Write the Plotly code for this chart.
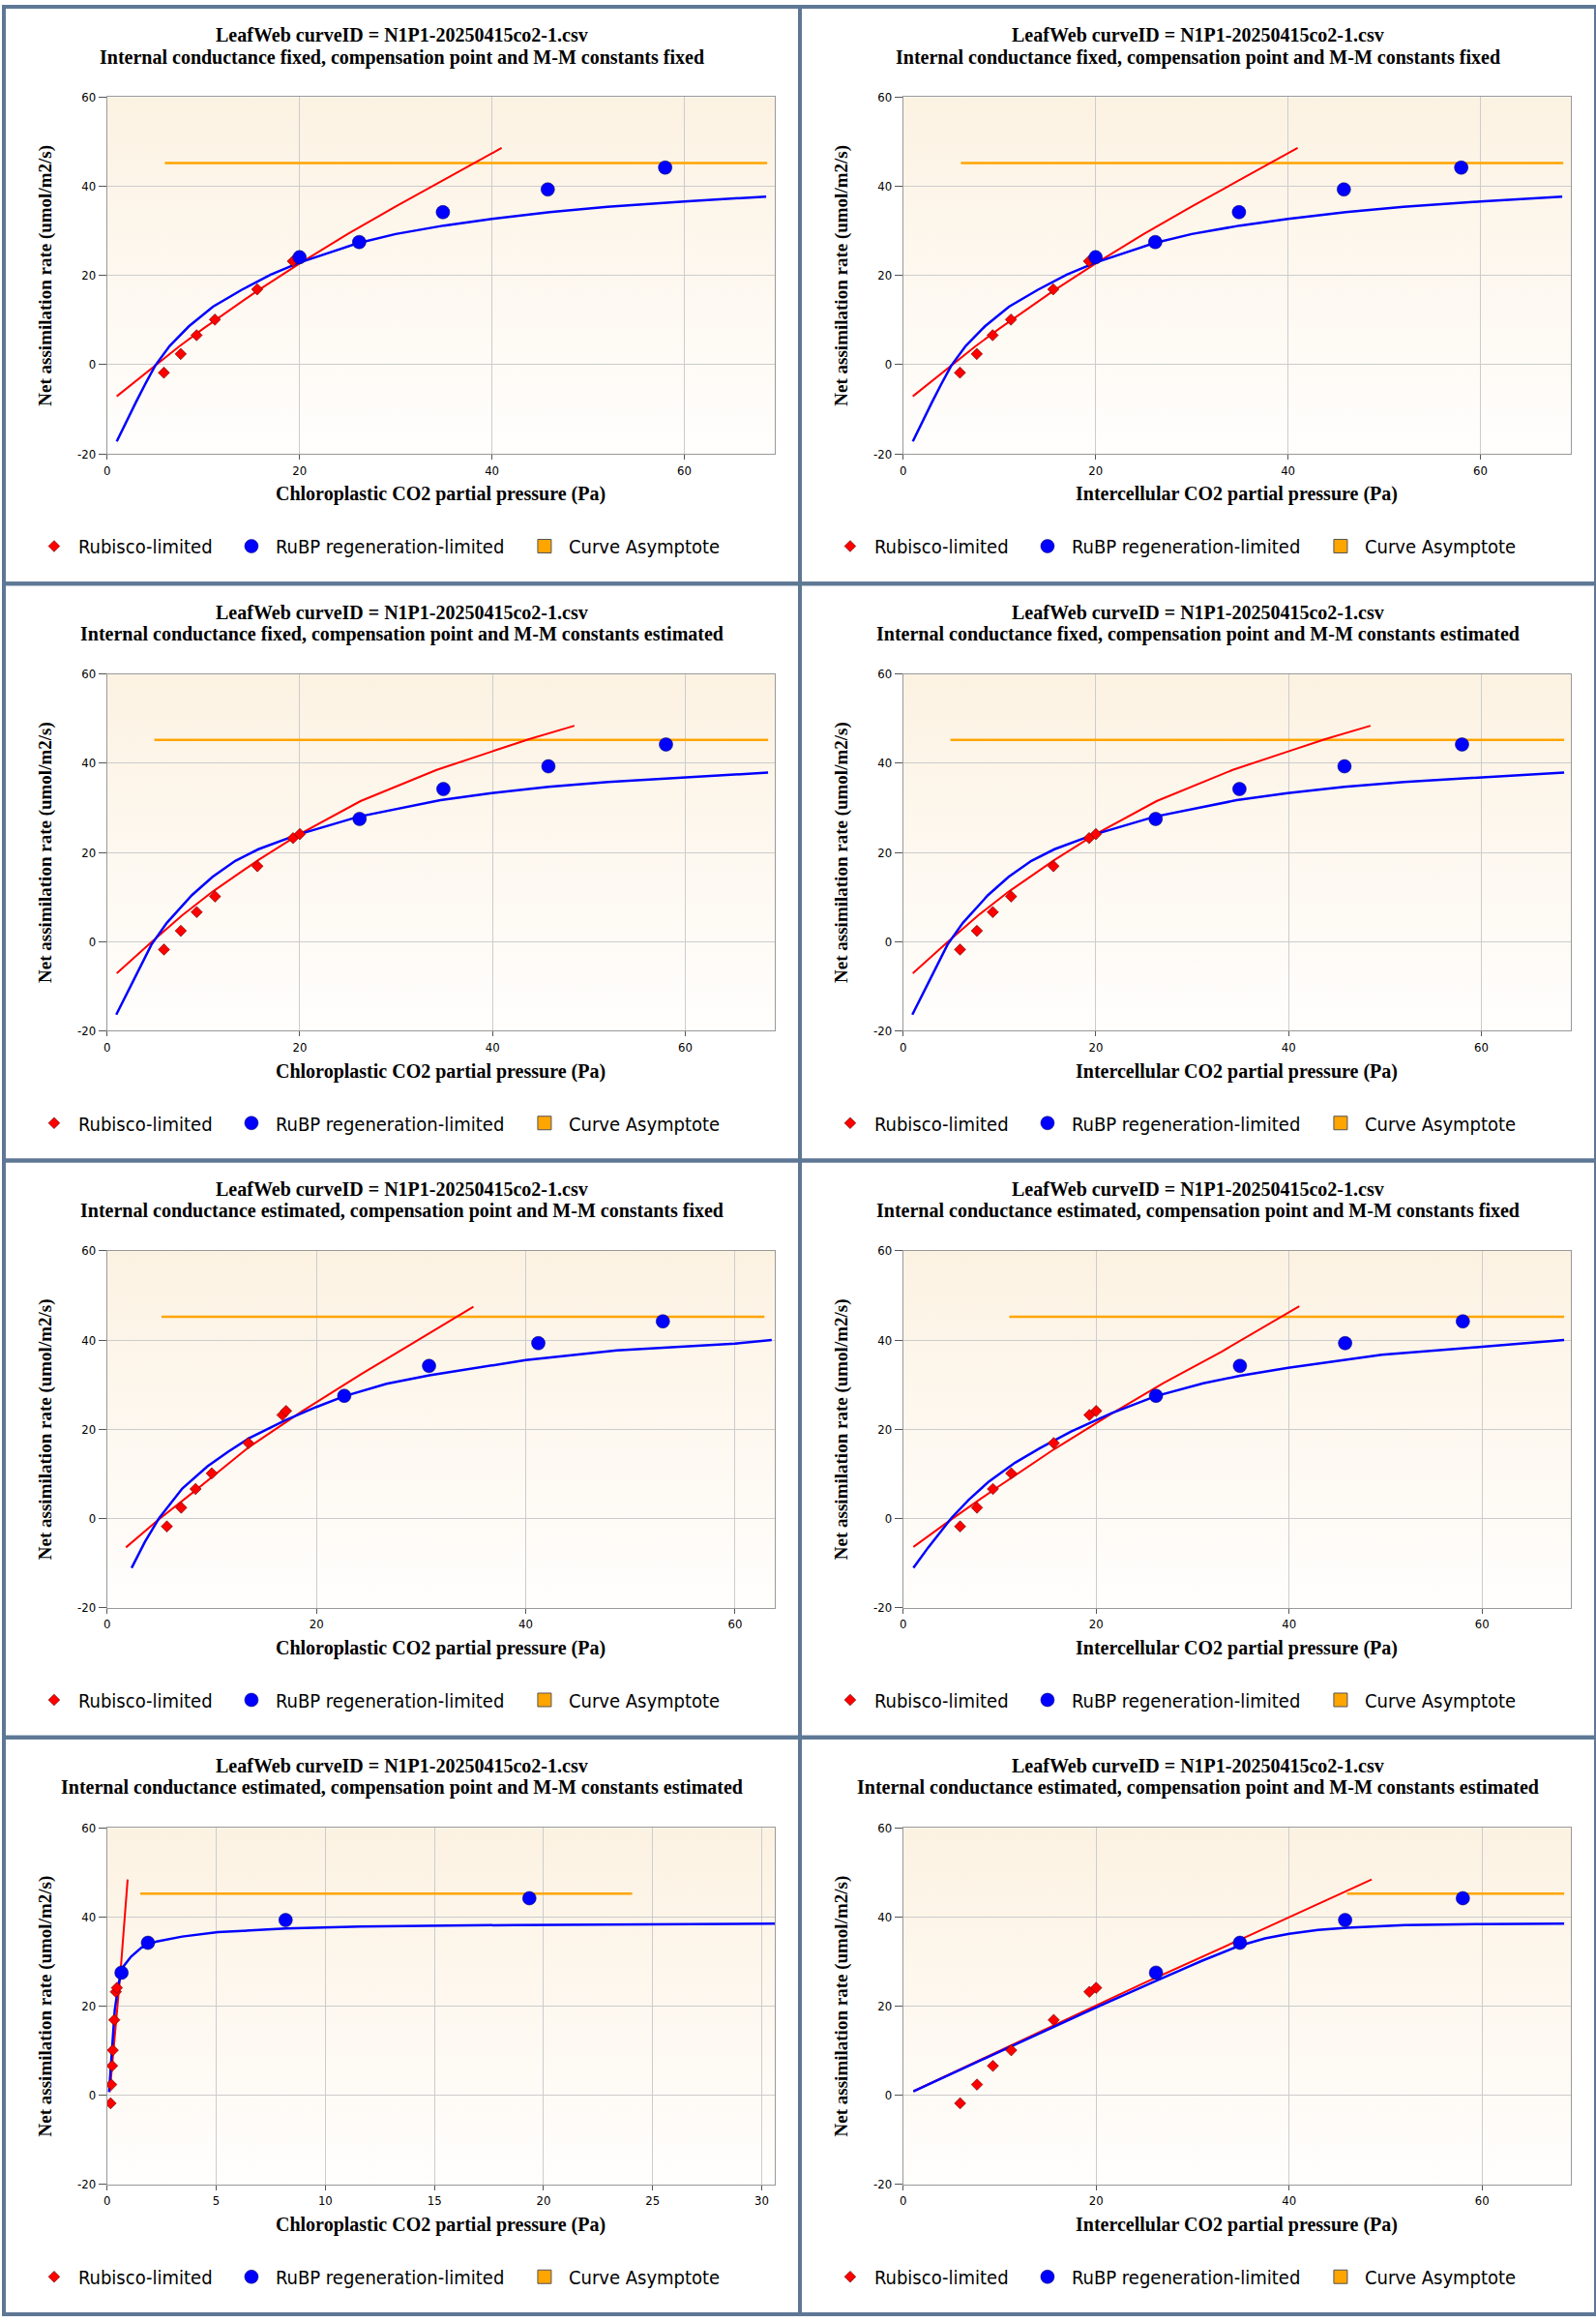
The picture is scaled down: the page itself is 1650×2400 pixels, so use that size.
import base64
import plotly.graph_objects as go
from plotly.subplots import make_subplots

# --------------------------------------------
# DATA
# --------------------------------------------
CURVE_ID = "LeafWeb curveID = N1P1-20250415co2-1.csv"

# measured points: intercellular CO2 partial pressure (Pa) and net assimilation
CI = [5.9, 7.65, 9.3, 11.2, 15.6, 19.3, 20.0, 26.2, 34.9, 45.8, 58.0]
A_NET = [-1.8, 2.4, 6.6, 10.1, 16.9, 23.2, 24.1, 27.5, 34.2, 39.3, 44.2]

# chloroplastic CO2 when internal conductance is estimated
CC_GI_EST_FIXED = [5.71, 7.08, 8.45, 10.0, 13.5, 16.75, 17.1, 22.66, 30.76, 41.2, 53.1]
CC_GI_EST_EST = [0.16, 0.19, 0.23, 0.26, 0.33, 0.40, 0.45, 0.66, 1.87, 8.18, 19.35]

# fitted curves: gi fixed, constants fixed
RUB_X_FF = [1.0, 3.0, 5.0, 7.5, 10.0, 12.5, 15.5, 20.0, 25.0, 30.0, 35.5, 41.0]
RUB_Y_FF = [-7.1, -3.6, -0.1, 4.1, 8.1, 11.9, 16.4, 22.7, 29.3, 35.5, 42.0, 48.6]
RUBP_X_FF = [1.0, 2.0, 3.0, 4.0, 5.0, 6.5, 8.5, 11.0, 14.0, 17.0, 20.0, 26.0, 30.0, 35.0, 40.0, 46.0, 52.0, 60.0, 68.5]
RUBP_Y_FF = [-17.2, -12.7, -8.4, -4.2, -0.2, 4.2, 8.6, 13.0, 16.8, 20.2, 22.9, 27.2, 29.3, 31.2, 32.7, 34.2, 35.4, 36.6, 37.7]
ASYM_X_FF = [6.0, 68.6]

# gi fixed, constants estimated
RUB_X_FE = [1.0, 4.6, 7.8, 10.95, 15.7, 19.8, 26.3, 34.2, 39.9, 43.8, 48.5]
RUB_Y_FE = [-7.1, -0.1, 5.9, 11.2, 18.3, 23.9, 31.5, 38.5, 42.6, 45.4, 48.4]
RUBP_X_FE = [0.95, 3.0, 4.6, 6.2, 8.8, 10.95, 13.3, 15.7, 19.8, 26.1, 34.6, 39.9, 45.8, 52.0, 60.0, 68.6]
RUBP_Y_FE = [-16.4, -7.4, -0.7, 4.2, 10.4, 14.5, 18.1, 20.7, 24.0, 28.0, 31.7, 33.3, 34.7, 35.8, 36.8, 37.9]
ASYM_X_FE = [4.9, 68.6]

# gi estimated, constants fixed (chloroplastic)
RUB_X_EF_CC = [1.8, 4.9, 8.4, 13.5, 18.6, 24.3, 29.2, 35.0]
RUB_Y_EF_CC = [-6.5, -0.3, 6.2, 15.9, 24.0, 32.4, 39.3, 47.5]
RUBP_X_EF_CC = [2.34, 3.6, 4.98, 7.18, 9.6, 11.6, 13.5, 17.0, 20.0, 22.66, 26.7, 30.8, 40.0, 48.7, 60.0, 63.5]
RUBP_Y_EF_CC = [-11.1, -5.3, 0.1, 6.7, 11.7, 15.0, 17.9, 22.0, 25.0, 27.4, 30.2, 32.1, 35.5, 37.7, 39.2, 40.0]
ASYM_X_EF_CC = [5.2, 62.8]

# gi estimated, constants fixed (intercellular)
RUB_X_EF_CI = [1.06, 5.0, 9.5, 15.7, 21.6, 27.0, 33.0, 41.05]
RUB_Y_EF_CI = [-6.4, -0.2, 6.6, 15.6, 23.5, 30.4, 37.4, 47.6]
RUBP_X_EF_CI = [1.06, 2.6, 5.0, 6.8, 8.9, 11.6, 14.2, 17.4, 21.6, 26.15, 31.1, 34.9, 39.9, 49.6, 60.0, 68.5]
RUBP_Y_EF_CI = [-11.1, -6.5, 0.1, 4.2, 8.3, 12.5, 15.8, 19.5, 23.6, 27.4, 30.3, 32.0, 33.8, 36.7, 38.5, 40.0]
ASYM_X_EF_CI = [11.0, 68.5]

# gi estimated, constants estimated (chloroplastic)
RUB_X_EE_CC = [0.12, 0.61, 0.94]
RUB_Y_EE_CC = [0.7, 27.4, 48.4]
RUBP_X_EE_CC = [0.09, 0.21, 0.35, 0.52, 0.70, 1.1, 1.57, 2.27, 3.44, 5.08, 8.18, 11.6, 18.7, 30.6]
RUBP_Y_EE_CC = [0.74, 8.3, 19.1, 24.9, 28.6, 31.1, 33.1, 34.5, 35.6, 36.6, 37.4, 37.85, 38.2, 38.5]
ASYM_X_EE_CC = [1.52, 24.06]

# gi estimated, constants estimated (intercellular)
RUB_X_EE_CI = [1.06, 24.8, 34.9, 39.9, 48.55]
RUB_Y_EE_CI = [0.9, 25.0, 34.9, 39.8, 48.4]
RUBP_X_EE_CI = [1.06, 10.0, 20.0, 26.15, 31.0, 34.8, 37.5, 40.0, 43.0, 46.0, 52.0, 60.0, 68.5]
RUBP_Y_EE_CI = [0.9, 9.8, 19.7, 25.6, 30.2, 33.5, 35.2, 36.2, 37.1, 37.6, 38.2, 38.4, 38.5]
ASYM_X_EE_CI = [46.0, 68.5]

ASYMPTOTE = 45.2

Y_TICKS = [-20, 0, 20, 40, 60]
Y_TICK_TEXT = ["-20", "0", "20", "40", "60"]

SUBTITLES = [
    "Internal conductance fixed, compensation point and M-M constants fixed",
    "Internal conductance fixed, compensation point and M-M constants estimated",
    "Internal conductance estimated, compensation point and M-M constants fixed",
    "Internal conductance estimated, compensation point and M-M constants estimated",
]
X_TITLE_CC = "Chloroplastic CO2 partial pressure (Pa)"
X_TITLE_CI = "Intercellular CO2 partial pressure (Pa)"
Y_TITLE = "Net assimilation rate (umol/m2/s)"

# one entry per panel, row by row
PANELS = [
    dict(sub=0, xt=X_TITLE_CC, px=CI, n_rub=6, rx=RUB_X_FF, ry=RUB_Y_FF, bx=RUBP_X_FF, by=RUBP_Y_FF, ax=ASYM_X_FF, xmax=69.4, dt=20),
    dict(sub=0, xt=X_TITLE_CI, px=CI, n_rub=6, rx=RUB_X_FF, ry=RUB_Y_FF, bx=RUBP_X_FF, by=RUBP_Y_FF, ax=ASYM_X_FF, xmax=69.4, dt=20),
    dict(sub=1, xt=X_TITLE_CC, px=CI, n_rub=7, rx=RUB_X_FE, ry=RUB_Y_FE, bx=RUBP_X_FE, by=RUBP_Y_FE, ax=ASYM_X_FE, xmax=69.3, dt=20),
    dict(sub=1, xt=X_TITLE_CI, px=CI, n_rub=7, rx=RUB_X_FE, ry=RUB_Y_FE, bx=RUBP_X_FE, by=RUBP_Y_FE, ax=ASYM_X_FE, xmax=69.3, dt=20),
    dict(sub=2, xt=X_TITLE_CC, px=CC_GI_EST_FIXED, n_rub=7, rx=RUB_X_EF_CC, ry=RUB_Y_EF_CC, bx=RUBP_X_EF_CC, by=RUBP_Y_EF_CC, ax=ASYM_X_EF_CC, xmax=63.8, dt=20),
    dict(sub=2, xt=X_TITLE_CI, px=CI, n_rub=7, rx=RUB_X_EF_CI, ry=RUB_Y_EF_CI, bx=RUBP_X_EF_CI, by=RUBP_Y_EF_CI, ax=ASYM_X_EF_CI, xmax=69.2, dt=20),
    dict(sub=3, xt=X_TITLE_CC, px=CC_GI_EST_EST, n_rub=7, rx=RUB_X_EE_CC, ry=RUB_Y_EE_CC, bx=RUBP_X_EE_CC, by=RUBP_Y_EE_CC, ax=ASYM_X_EE_CC, xmax=30.6, dt=5),
    dict(sub=3, xt=X_TITLE_CI, px=CI, n_rub=7, rx=RUB_X_EE_CI, ry=RUB_Y_EE_CI, bx=RUBP_X_EE_CI, by=RUBP_Y_EE_CI, ax=ASYM_X_EE_CI, xmax=69.2, dt=20),
]

# --------------------------------------------
# LAYOUT CONSTANTS (pixels)
# --------------------------------------------
W, H = 1650, 2400
PW, PH = 825, 600
PLOT_L, PLOT_R, PLOT_T, PLOT_B = 107, 799, 94, 465
BORDER = "#5e7795"

SERIF = dict(family="Liberation Serif, Times New Roman, serif", size=20, color="black", weight="bold")
SERIF_Y = dict(SERIF, size=19)
SANS = "DejaVu Sans Condensed, DejaVu Sans, sans-serif"

# gradient for the plot background
svg = ('<svg xmlns="http://www.w3.org/2000/svg" width="10" height="100" viewBox="0 0 10 100" '
       'preserveAspectRatio="none"><defs><linearGradient id="g" x1="0" y1="0" x2="0" y2="1">'
       '<stop offset="0" stop-color="#fcf2e2"/><stop offset="1" stop-color="#fffefd"/>'
       '</linearGradient></defs><rect width="10" height="100" fill="url(#g)"/></svg>')
BG_SRC = "data:image/svg+xml;base64," + base64.b64encode(svg.encode()).decode()


def fx(px):
    return px / W


def fy(py):
    return 1 - py / H


fig = make_subplots(rows=4, cols=2)

annotations = []
shapes = []
images = []

for i, p in enumerate(PANELS):
    row, col = i // 2 + 1, i % 2 + 1
    ox, oy = (col - 1) * PW, (row - 1) * PH
    suffix = "" if i == 0 else str(i + 1)
    leg = "legend" + suffix
    n = p["n_rub"]

    # asymptote
    fig.add_trace(go.Scatter(
        x=p["ax"], y=[ASYMPTOTE] * len(p["ax"]), mode="lines",
        line=dict(color="#ffa500", width=2.5), showlegend=False, hoverinfo="skip"
    ), row=row, col=col)
    # Rubisco-limited fit
    fig.add_trace(go.Scatter(
        x=p["rx"], y=p["ry"], mode="lines", line=dict(color="#ff0000", width=2),
        showlegend=False
    ), row=row, col=col)
    # RuBP-limited fit
    fig.add_trace(go.Scatter(
        x=p["bx"], y=p["by"], mode="lines", line=dict(color="#0000ff", width=2.5),
        showlegend=False
    ), row=row, col=col)
    # points
    fig.add_trace(go.Scatter(
        x=p["px"][:n], y=A_NET[:n], mode="markers", name="Rubisco-limited",
        marker=dict(symbol="diamond", size=9, color="#ff0000", line=dict(color="rgba(90,0,0,0.6)", width=1)),
        legend=leg, legendwidth=149
    ), row=row, col=col)
    fig.add_trace(go.Scatter(
        x=p["px"][n:], y=A_NET[n:], mode="markers", name="RuBP regeneration-limited",
        marker=dict(symbol="circle", size=14, color="#0000ff", line=dict(color="rgba(0,0,90,0.5)", width=1)),
        legend=leg, legendwidth=248
    ), row=row, col=col)
    fig.add_trace(go.Scatter(
        x=[None], y=[None], mode="markers", name="Curve Asymptote",
        marker=dict(symbol="square", size=14, color="#ffa500", line=dict(color="#555555", width=1)),
        legend=leg
    ), row=row, col=col)

    xdom = [fx(ox + PLOT_L), fx(ox + PLOT_R)]
    ydom = [fy(oy + PLOT_B), fy(oy + PLOT_T)]
    fig.update_xaxes(domain=xdom, range=[0, p["xmax"]], tick0=0, dtick=p["dt"], ticklen=5,
                     row=row, col=col)
    fig.update_yaxes(domain=ydom, range=[-20, 60], tickmode="array", tickvals=Y_TICKS,
                     ticktext=Y_TICK_TEXT, ticklen=8, row=row, col=col)

    fig.update_layout({leg: dict(
        orientation="h", x=fx(ox + 27), xanchor="left", y=fy(oy + 561), yanchor="middle",
        font=dict(family=SANS, size=20, color="black"), itemwidth=40,
        bgcolor="rgba(0,0,0,0)", traceorder="normal"
    )})

    # titles (two lines, set a little tighter than plotly's default line height)
    for text, ty in ((CURVE_ID, 29.5), (SUBTITLES[p["sub"]], 52.5)):
        annotations.append(dict(
            text=text, x=fx(ox + PW / 2), y=fy(oy + ty),
            xref="paper", yref="paper", xanchor="center", yanchor="middle", showarrow=False,
            font=SERIF
        ))
    annotations.append(dict(
        text=p["xt"], x=fx(ox + (PLOT_L + PLOT_R) / 2), y=fy(oy + 507),
        xref="paper", yref="paper", xanchor="center", yanchor="middle", showarrow=False,
        font=SERIF
    ))
    annotations.append(dict(
        text=Y_TITLE, x=fx(ox + 43), y=fy(oy + (PLOT_T + PLOT_B) / 2), textangle=-90,
        xref="paper", yref="paper", xanchor="center", yanchor="middle", showarrow=False,
        font=SERIF_Y
    ))

    images.append(dict(
        source=BG_SRC, xref="x" + suffix + " domain", yref="y" + suffix + " domain",
        x=0, y=1, sizex=1, sizey=1, xanchor="left", yanchor="top",
        sizing="stretch", layer="below"
    ))

    shapes.append(dict(
        type="rect", xref="paper", yref="paper", x0=fx(ox), x1=fx(ox + PW), y0=fy(oy + PH), y1=fy(oy),
        line=dict(color=BORDER, width=4), fillcolor="rgba(0,0,0,0)"
    ))

fig.update_xaxes(showgrid=True, gridcolor="#cccccc", gridwidth=1, zeroline=False,
                 showline=True, linecolor="#999999", mirror=True, ticks="outside",
                 tickcolor="#555555", tickfont=dict(family=SANS, size=13, color="black"))
fig.update_yaxes(showgrid=True, gridcolor="#cccccc", gridwidth=1, zeroline=False,
                 showline=True, linecolor="#999999", mirror=True, ticks="outside",
                 tickcolor="#555555", tickfont=dict(family=SANS, size=13, color="black"))

fig.update_layout(
    width=W, height=H,
    margin=dict(l=0, r=0, t=0, b=0),
    paper_bgcolor="white",
    plot_bgcolor="white",
    annotations=annotations,
    shapes=shapes,
    images=images,
)

# the page body has a default margin; drop it so the figure sits at the window corner
fig.write_html(
    "out.html",
    config={"displayModeBar": False},
    post_script=("document.documentElement.style.overflow='hidden';"
                 "document.body.style.margin='0';document.body.style.overflow='hidden';"),
)
